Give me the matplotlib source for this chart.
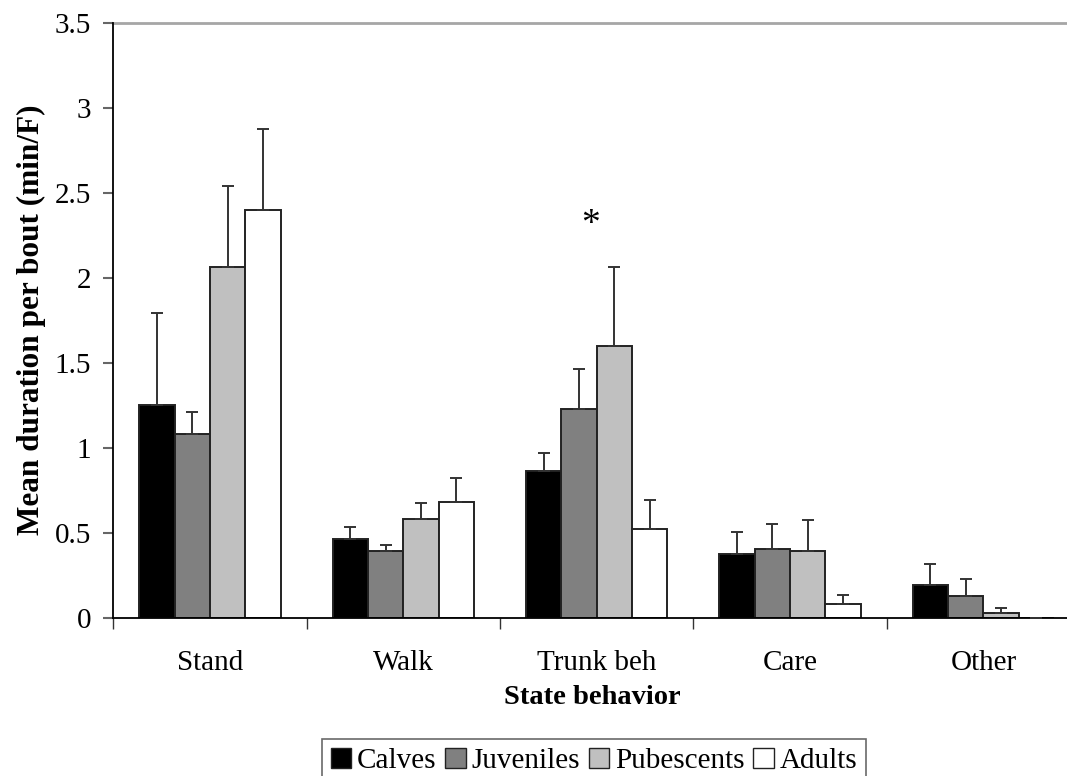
import numpy as np
import matplotlib.pyplot as plt
from matplotlib.patches import Patch

plt.rcParams['font.family'] = ['Liberation Serif', 'DejaVu Serif']

behaviors = ['Stand', 'Walk', 'Trunk beh', 'Care', 'Other']
groups = ['Calves', 'Juveniles', 'Pubescents', 'Adults']
colors = ['#000000', '#808080', '#c0c0c0', '#ffffff']

# mean duration per bout (min/F) for each group, one value per behavior
calves = [1.25, 0.46, 0.865, 0.375, 0.19]
juveniles = [1.08, 0.39, 1.23, 0.405, 0.13]
pubescents = [2.06, 0.58, 1.60, 0.39, 0.03]
adults = [2.40, 0.68, 0.52, 0.08, 0.0]

# upper error (SE) for each bar
calves_err = [0.54, 0.075, 0.105, 0.13, 0.125]
juveniles_err = [0.13, 0.04, 0.235, 0.145, 0.095]
pubescents_err = [0.48, 0.095, 0.465, 0.185, 0.025]
adults_err = [0.475, 0.14, 0.175, 0.055, 0.0]

means = [calves, juveniles, pubescents, adults]
errs = [calves_err, juveniles_err, pubescents_err, adults_err]

fig = plt.figure(figsize=(10.67, 7.76), dpi=100)
ax = fig.add_axes([0.1062, 0.204, 0.906, 0.7668])

x = np.arange(len(behaviors)) + 0.5
w = 0.1824
for i, (vals, e, c) in enumerate(zip(means, errs, colors)):
    pos = x + (i - 1.5) * w
    ax.bar(pos, vals, width=w, color=c, edgecolor='#222222', linewidth=1.4,
           label=groups[i], zorder=2)
    ax.errorbar(pos, vals, yerr=[np.zeros(len(vals)), e], fmt='none',
                ecolor='#333333', elinewidth=1.4, capsize=4, capthick=1.4,
                zorder=3)

# significance marker over trunk behaviours
ax.text(x[2] - 0.03, 2.31, '*', ha='center', va='center', fontsize=27)

ax.set_xlim(0, 5)
ax.set_ylim(0, 3.5)
ax.axhline(3.5, color='#a6a6a6', linewidth=2, zorder=1, clip_on=False)

ax.set_yticks(np.arange(0, 3.51, 0.5))
ax.set_yticklabels(['0', '0.5', '1', '1.5', '2', '2.5', '3', '3.5'])
ax.set_xticks(np.arange(0, 6))
ax.set_xticklabels([])
ax.set_xticks(x, minor=True)
ax.set_xticklabels(behaviors, minor=True)
ax.tick_params(axis='x', which='major', direction='out', length=8, width=1,
               color='#333333')
ax.tick_params(axis='x', which='minor', length=0, pad=23, labelsize=21)
ax.tick_params(axis='y', direction='out', length=7, width=1.5,
               color='#666666', pad=9, labelsize=21)

for s in ['top', 'right']:
    ax.spines[s].set_visible(False)
ax.spines['left'].set_linewidth(1.3)
ax.spines['bottom'].set_linewidth(1.3)

ax.set_ylabel('Mean duration per bout (min/F)', fontsize=22.5,
              fontweight='bold', labelpad=6)
fig.text(0.555, 0.101, 'State behavior', ha='center', va='center',
         fontsize=20.5, fontweight='bold')

handles = [Patch(facecolor=c, edgecolor='#222222', linewidth=1) for c in colors]
leg = fig.legend(handles, groups, loc='upper left',
                 bbox_to_anchor=(0.3018, 0.0477), ncol=4, fontsize=21,
                 frameon=True, fancybox=False, edgecolor='#444444',
                 handlelength=0.7, handleheight=0.7, handletextpad=0.2,
                 columnspacing=0.3, borderpad=0.3, borderaxespad=0)
leg.get_frame().set_linewidth(1.2)

fig.savefig('out.png', dpi=100)
